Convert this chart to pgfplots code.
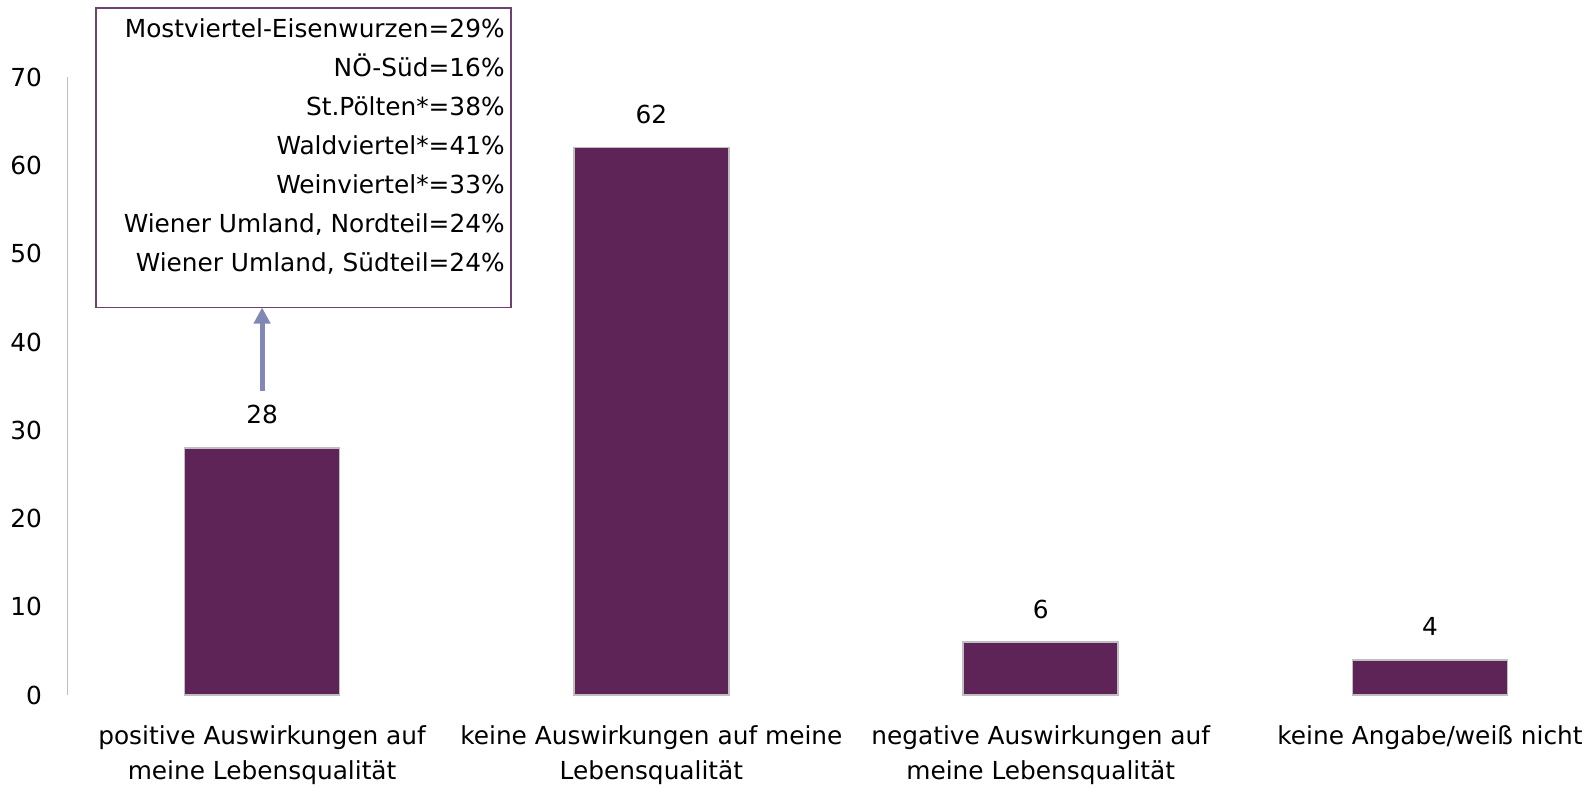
\documentclass[border=0pt]{standalone}
\usepackage{fontspec}
\setmainfont{DejaVu Sans}
\usepackage{pgfplots}
\pgfplotsset{compat=1.18}
\usetikzlibrary{arrows.meta,calc}
\definecolor{barfill}{RGB}{94,36,88}
\definecolor{bargray}{RGB}{191,191,191}
\definecolor{boxcol}{RGB}{112,64,112}
\definecolor{arrowcol}{RGB}{130,135,182}
\begin{document}
\begin{tikzpicture}
\begin{axis}[
  scale only axis, width=761bp, height=309bp,
  xmin=-0.5, xmax=3.411, ymin=0, ymax=70,
  axis lines*=left,
  x axis line style={draw=none},
  y axis line style={draw=bargray, line width=0.8bp},
  major tick length=0pt,
  ytick={0,10,...,70},
  xtick={0,1,2,3},
  xticklabels={{positive Auswirkungen auf\\meine Lebensqualität},{keine Auswirkungen auf meine\\Lebensqualität},{negative Auswirkungen auf\\meine Lebensqualität},{keine Angabe/weiß nicht}},
  /pgf/number format/assume math mode=true,
  tick label style={font=\fontsize{12.4bp}{17.7bp}\selectfont},
  yticklabel style={anchor=east, inner sep=0pt, xshift=-12.5bp},
  xticklabel style={align=center, anchor=north, inner sep=0pt, yshift=-15bp},
  clip=false,
  ybar, bar width=77.5bp,
]
\addplot[ybar, fill=barfill, draw=bargray, line width=0.8bp,
  nodes near coords,
  every node near coord/.append style={anchor=base, inner sep=0pt, yshift=12bp, text=black, font=\fontsize{12.4bp}{15bp}\selectfont}]
  coordinates {(0,28) (1,62) (2,6) (3,4)};
\draw[boxcol, line width=0.8bp] (axis cs:-0.426,43.9) rectangle (axis cs:0.640,77.8);
\node[anchor=base east, align=right, inner sep=0pt, font=\fontsize{12.4bp}{19.45bp}\selectfont] at (axis cs:0.624,48.0)
  {Mostviertel-Eisenwurzen=29\%\\NÖ-Süd=16\%\\St.Pölten*=38\%\\Waldviertel*=41\%\\Weinviertel*=33\%\\Wiener Umland, Nordteil=24\%\\Wiener Umland, Südteil=24\%};
\draw[arrowcol, line width=2.5bp, -{Triangle[width=8bp,length=8bp]}] (axis cs:0,34.5) -- (axis cs:0,43.9);
\end{axis}
\pgfresetboundingbox
\path[use as bounding box] ($(current axis.south west)+(-33.7bp,-46bp)$) rectangle ($(current axis.north east)+(0,38.5bp)$);
\end{tikzpicture}
\end{document}
